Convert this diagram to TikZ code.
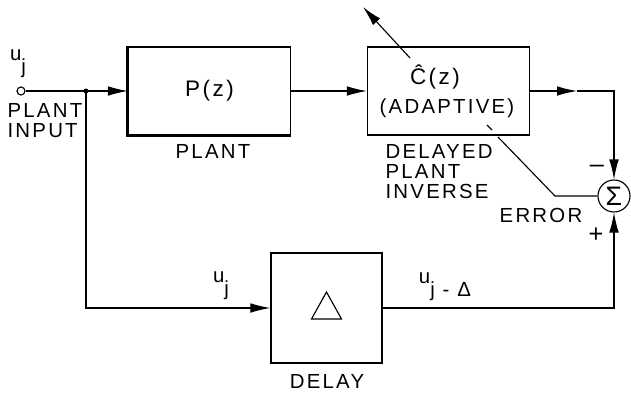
\documentclass[tikz,border=0pt]{standalone}
\usepackage{fontspec}
\setmainfont[LetterSpace=11]{Liberation Sans}
\usetikzlibrary{arrows.meta}

\begin{document}
\begin{tikzpicture}[x=0.25mm,y=-0.25mm,>={Latex[length=5mm,width=2.4mm]},
    line width=0.8pt,font=\fontsize{14.5}{14.2}\selectfont]
    \useasboundingbox (0,0) rectangle (631,394);
    \tikzset{blk/.style={draw,minimum width=40.5mm,minimum height=22mm,inner sep=0pt},
             lbl/.style={inner sep=0pt,align=left},
             sgn/.style={inner sep=0pt,font=\fontsize{18}{18}\selectfont}}
    % blocks
    \node[circle,draw,inner sep=0pt,minimum size=2mm] (in) at (21,91) {};
    \coordinate (split) at (86,91);
    \node[blk,font=\fontsize{16}{16}\selectfont] (plant) at (209.5,91) {P(z)};
    \node[blk] (adapt) at (448.5,91) {};
    \node[draw,minimum width=27.75mm,minimum height=27.5mm,inner sep=0pt] (delay) at (326.5,308) {};
    \draw (delay.center) ++(-15,11) -- ++(30,0) -- ++(-15,-27) -- cycle;
    \node[circle,draw,minimum size=8mm,inner sep=0pt,
          font=\fontsize{19}{19}\selectfont] (sum) at (614,196) {Σ};
    \draw[line width=2.2pt] (plant.north west) -- (plant.south west) -- (plant.south east);
    % connectors
    \draw (in) -- (split);
    \fill (split) circle (2.5);
    \draw[->] (split) -- (plant);
    \draw[->] (plant) -- (adapt);
    \coordinate (mid) at (577,91);
    \coordinate (corner) at (sum |- adapt);
    \draw[->] (adapt) -- (mid);
    \draw[->] (mid) -- (corner) -- (sum);
    \draw[->] (split) |- (delay);
    \draw[->] (delay) -| (sum);
    \coordinate (errknee) at (555,196);
    \coordinate (errin) at (498,137);
    \draw (sum) -- (errknee) -- (errin);
    \draw (487,125) -- (492,130);
    \coordinate (adj) at (410,58);
    \coordinate (adjtip) at (363,7);
    \draw[->] (adj) -- (adjtip);
    % labels
    \node[lbl] (ujin) at (18,64) {u\raisebox{-1.2ex}{j}};
    \node[lbl,anchor=north west] (inlbl) at (7,103) {PLANT\\INPUT};
    \node[lbl] (plantlbl) at (213,151) {PLANT};
    \node[lbl,font=\fontsize{16}{16}\selectfont] (chat) at (435,77) {\^{C}(z)};
    \node[lbl] (adaptlbl) at (447,108) {(ADAPTIVE)};
    \node[lbl,anchor=north west] (invlbl) at (385,144) {DELAYED\\PLANT\\INVERSE};
    \node[lbl] (errlbl) at (541,215) {ERROR};
    \node[sgn] (minus) at (597,169) {--};
    \node[sgn] (plus) at (596,235) {+};
    \node[lbl] (ujd) at (221,286) {u\raisebox{-1.2ex}{j}};
    \node[lbl] (ujdelta) at (445,287) {u\raisebox{-1.2ex}{j - Δ}};
    \node[lbl] (delaylbl) at (327,381) {DELAY};
\end{tikzpicture}
\end{document}
